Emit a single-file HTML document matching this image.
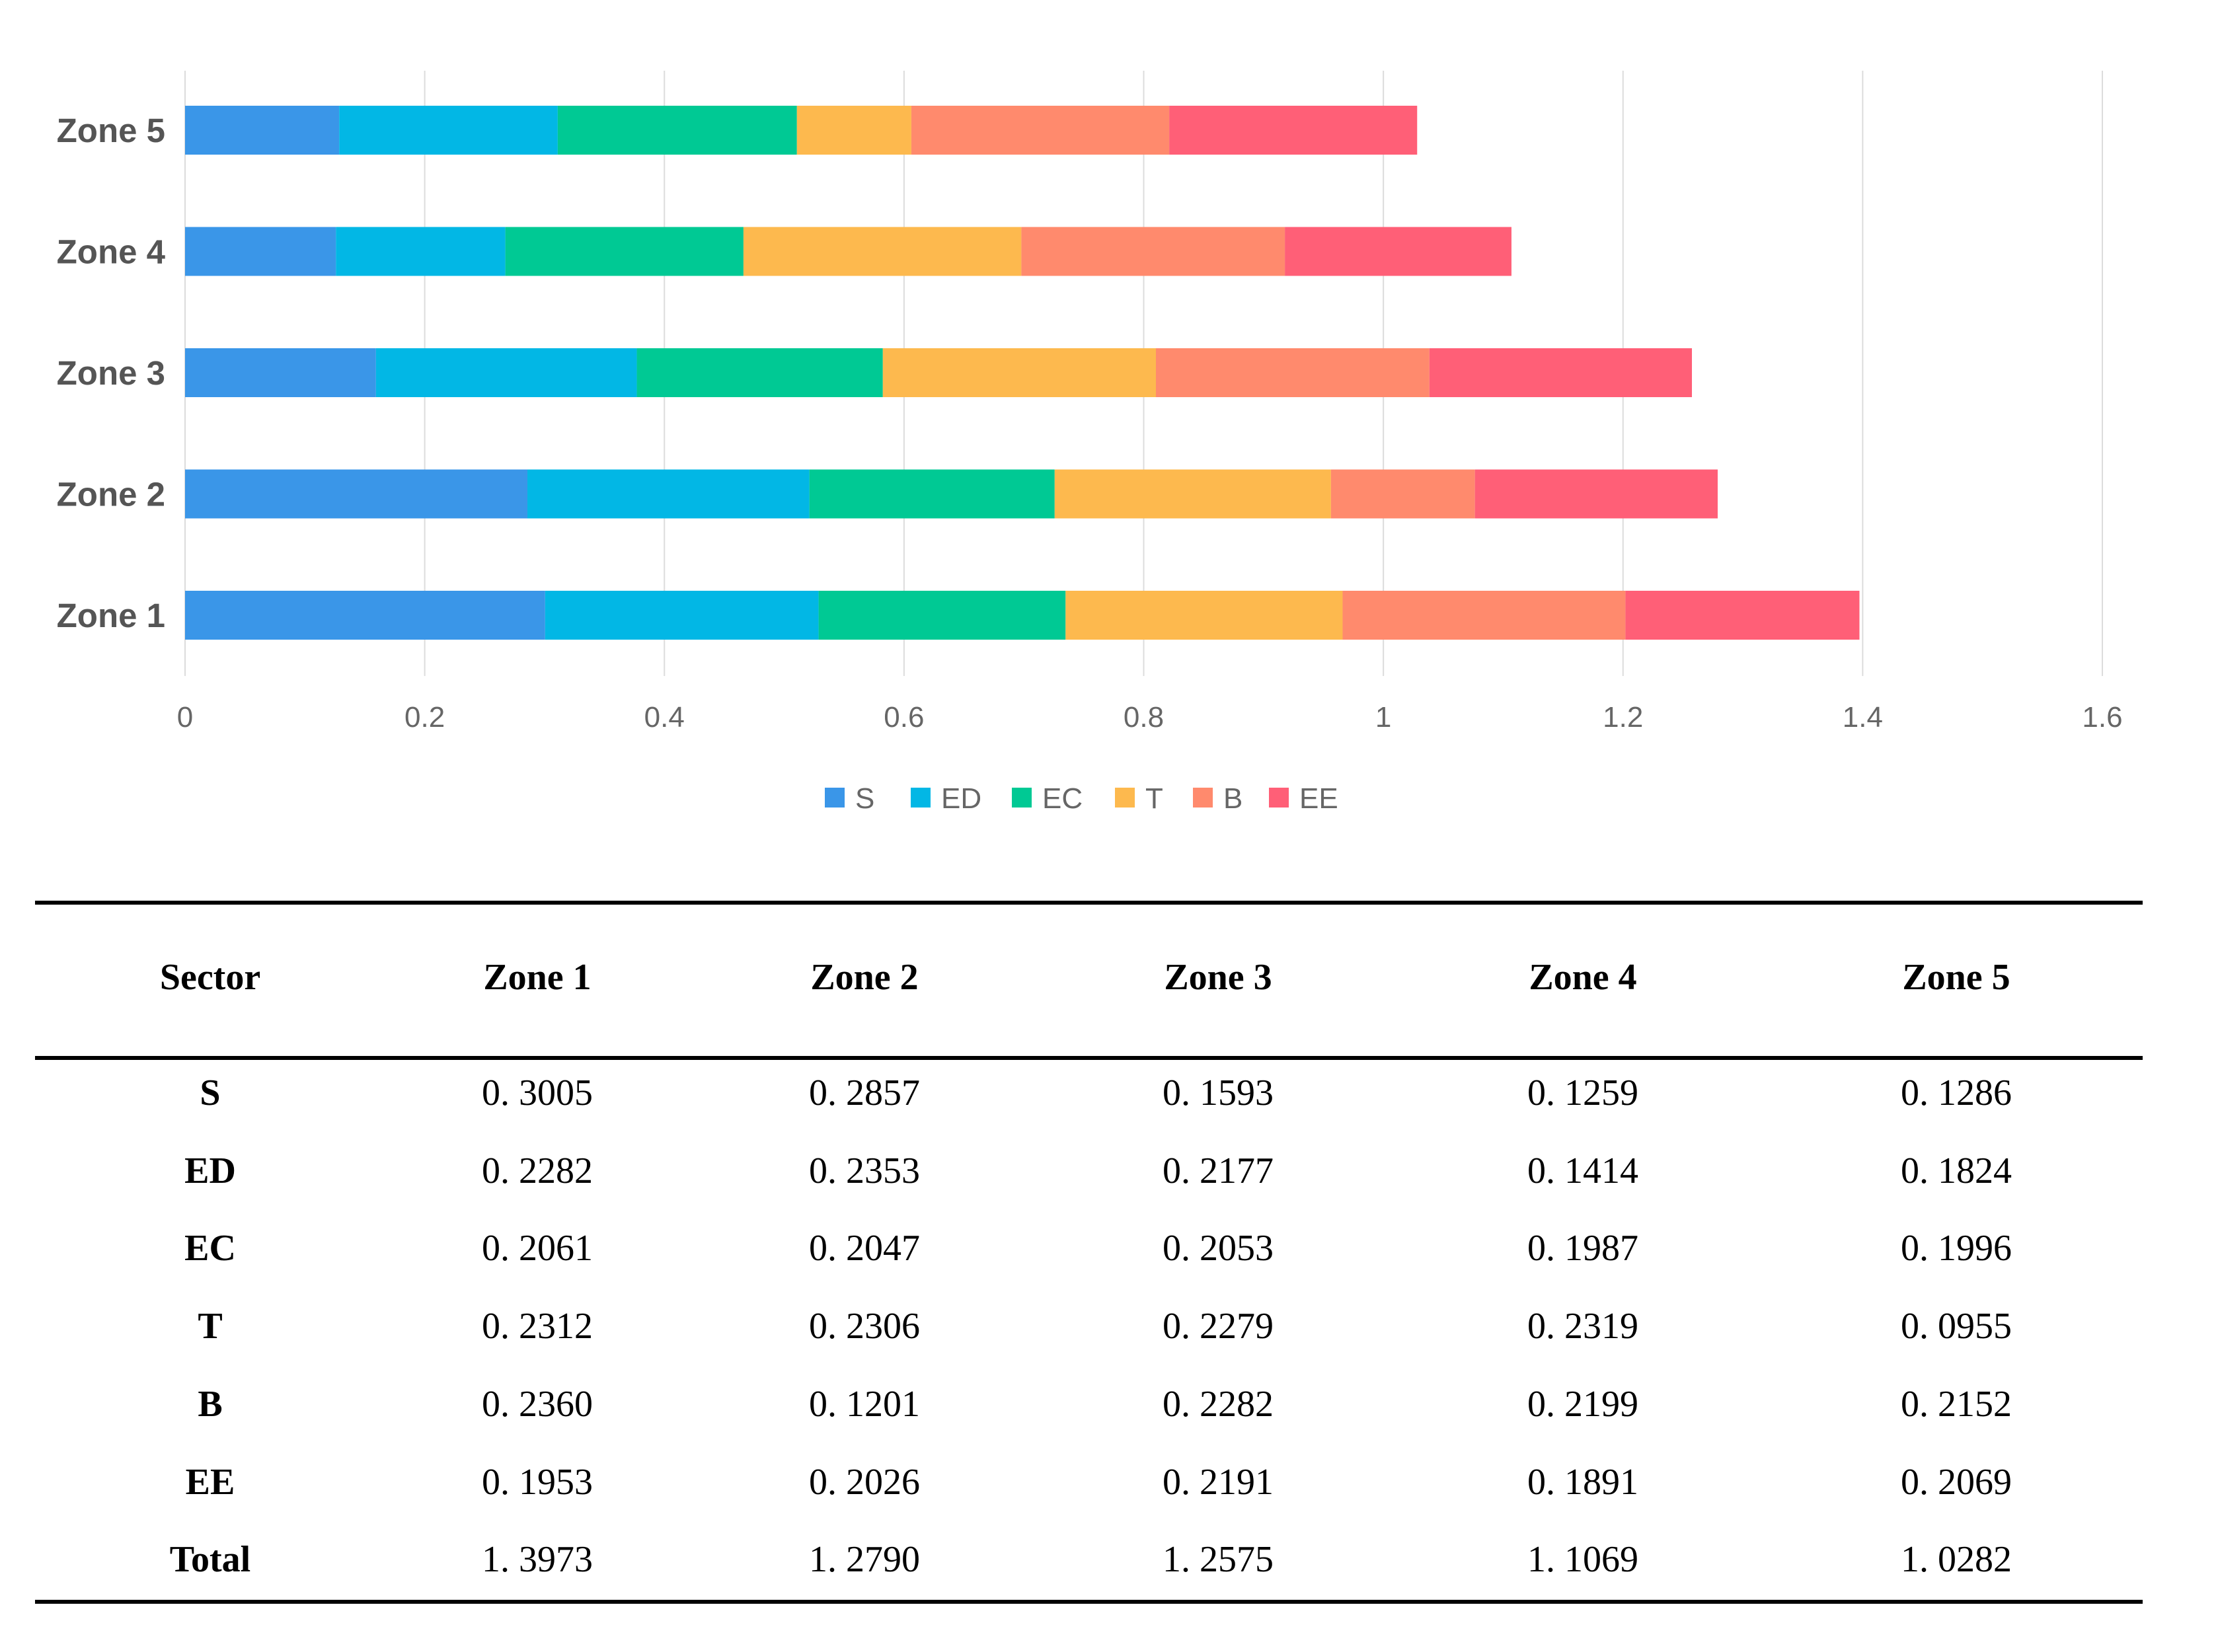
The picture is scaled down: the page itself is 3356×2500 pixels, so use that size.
<!DOCTYPE html>
<html><head><meta charset="utf-8"><style>
html,body{margin:0;padding:0;background:#fff;width:3356px;height:2500px;overflow:hidden}
svg{display:block}
</style></head><body>
<svg id="chart" width="3356" height="2500" xmlns="http://www.w3.org/2000/svg">
<g id="grid"></g>
<g id="bars"></g>
<g id="ylab"></g>
<g id="xlab"></g>
<g id="legend"></g>
<g id="table"></g>
</svg>
<script>
const zones = ["Zone 1","Zone 2","Zone 3","Zone 4","Zone 5"];
const sectors = ["S","ED","EC","T","B","EE"];
const sValues  = [0.3005,0.2857,0.1593,0.1259,0.1286];
const edValues = [0.2282,0.2353,0.2177,0.1414,0.1824];
const ecValues = [0.2061,0.2047,0.2053,0.1987,0.1996];
const tValues  = [0.2312,0.2306,0.2279,0.2319,0.0955];
const bValues  = [0.2360,0.1201,0.2282,0.2199,0.2152];
const eeValues = [0.1953,0.2026,0.2191,0.1891,0.2069];
const totals   = ["1. 3973","1. 2790","1. 2575","1. 1069","1. 0282"];
const xTicks = [0,0.2,0.4,0.6,0.8,1,1.2,1.4,1.6];
const xTickLabels = ["0","0.2","0.4","0.6","0.8","1","1.2","1.4","1.6"];
const series = [sValues,edValues,ecValues,tValues,bValues,eeValues];
const colors = ["#3a96e8","#02b7e5","#00c994","#fdb94e","#ff8a6d","#ff5f77"];

const NS="http://www.w3.org/2000/svg";
function mk(tag,attrs,parent,text){const e=document.createElementNS(NS,tag);for(const k in attrs)e.setAttribute(k,attrs[k]);if(text!==undefined)e.textContent=text;parent.appendChild(e);return e;}
const X0=280, X1=3181, XMAX=1.6;
const xs=v=>X0+(X1-X0)*v/XMAX;
const yTop=197, yStep=183.5, barH=74;
const ys=i=>yTop+(zones.length-1-i)*yStep;

const grid=document.getElementById('grid');
xTicks.forEach((t,i)=>{
  const l=mk('line',{x1:xs(t),x2:xs(t),y1:107,y2:1023,stroke:'#dcdcdc','stroke-width':2},grid);
  
  
  const tx=mk('text',{x:xs(t),y:1100,'text-anchor':'middle','font-family':'Liberation Sans, sans-serif','font-size':44,fill:'#666'},document.getElementById('xlab'),xTickLabels[i]);
  
  
});
const bars=document.getElementById('bars');
zones.forEach((z,i)=>{
  let acc=0;
  series.forEach((s,j)=>{
    const r=mk('rect',{x:xs(acc),y:ys(i)-barH/2,width:xs(acc+s[i])-xs(acc),height:barH,fill:colors[j]},bars);
    
    
    acc+=s[i];
  });
  const t=mk('text',{x:250,y:ys(i)+18,'text-anchor':'end','font-family':'Liberation Sans, sans-serif','font-weight':'bold','font-size':51,fill:'#555'},document.getElementById('ylab'),z);
  
  
});
const legX=[1248,1378,1531,1687,1805,1920];
const lg=document.getElementById('legend');
sectors.forEach((s,j)=>{
  const r=mk('rect',{x:legX[j],y:1192,width:30,height:30,fill:colors[j]},lg);
  
  
  const t=mk('text',{x:legX[j]+46,y:1223,'font-family':'Liberation Sans, sans-serif','font-size':44,fill:'#666'},lg,s);
  
  
});
const tb=document.getElementById('table');
[1366,1601,2424].forEach(y=>{
  const l=mk('line',{x1:53,x2:3242,y1:y,y2:y,stroke:'#000','stroke-width':6},tb);
  
  
});
const colX=[318,813,1308,1843,2395,2960];
const FF='Liberation Serif, Noto Serif CJK SC, serif';
const h=mk('text',{x:colX[0],y:1497,'text-anchor':'middle','font-family':FF,'font-weight':'bold','font-size':56,fill:'#000'},tb,'Sector');


zones.forEach((z,i)=>{
  const t=mk('text',{x:colX[i+1],y:1497,'text-anchor':'middle','font-family':FF,'font-weight':'bold','font-size':56,fill:'#000','xml:space':'preserve'},tb,z.replace(' ','  '));
  
  
});
const rowY=[1672,1790,1907,2025,2143,2261,2378];
const fmt=v=>{const s=v.toFixed(4);return s.replace('.','. ');};
sectors.forEach((s,j)=>{
  const t=mk('text',{x:colX[0],y:rowY[j],'text-anchor':'middle','font-family':FF,'font-weight':'bold','font-size':56,fill:'#000'},tb,s);
  
  
  series[j].forEach((v,i)=>{
    const c=mk('text',{x:colX[i+1],y:rowY[j],'text-anchor':'middle','font-family':FF,'font-size':56,fill:'#000'},tb,fmt(v));
    
    
  });
});
const tl=mk('text',{x:colX[0],y:rowY[6],'text-anchor':'middle','font-family':FF,'font-weight':'bold','font-size':56,fill:'#000'},tb,'Total');


totals.forEach((v,i)=>{
  const c=mk('text',{x:colX[i+1],y:rowY[6],'text-anchor':'middle','font-family':FF,'font-size':56,fill:'#000'},tb,v);
  
  
});
</script>
</body></html>
